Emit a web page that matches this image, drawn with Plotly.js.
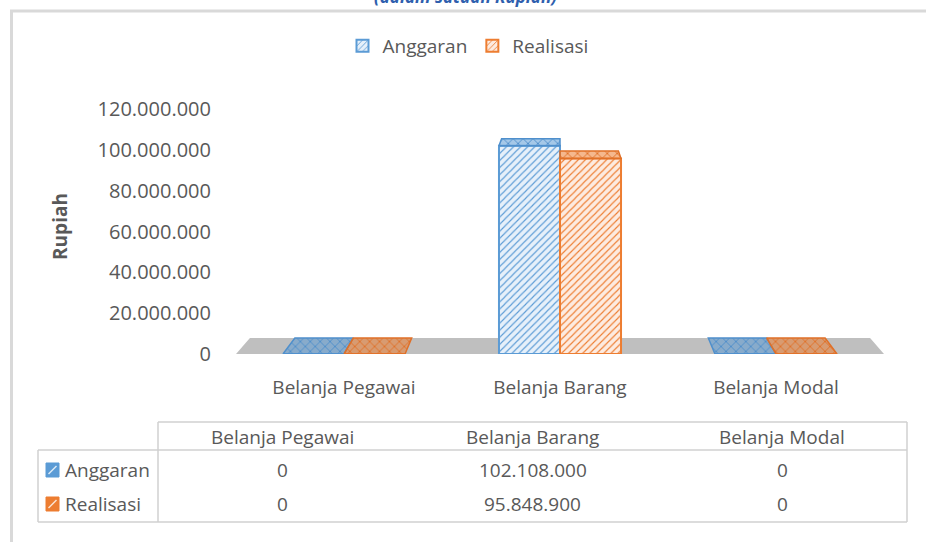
<!DOCTYPE html>
<html>
<head>
<meta charset="utf-8">
<script src="https://cdn.plot.ly/plotly-3.0.1.min.js"></script>
<style>html,body{margin:0;padding:0;background:#fff;}#chart{width:926px;height:542px;}</style>
</head>
<body>
<div id="chart"></div>
<script>
// ---- data ----
const categories = ['Belanja Pegawai', 'Belanja Barang', 'Belanja Modal'];
const seriesNames = ['Anggaran', 'Realisasi'];
const anggaran = [0, 102108000, 0];
const realisasi = [0, 95848900, 0];
const yTickVals = [0, 20000000, 40000000, 60000000, 80000000, 100000000, 120000000];
const chartTitle = '(dalam satuan Rupiah)';
const yTitle = 'Rupiah';

// ---- styles ----
const colors = ['#5b9bd5', '#ed7d31'];
const lightColors = ['#e6f0fa', '#fdebe0'];
const capFill = ['rgba(91,155,213,0.55)', 'rgba(237,125,49,0.55)'];
const capLine = ['#4f8fcc', '#e07028'];
const W = 926, H = 542;
const M = {l: 236, r: 42, t: 99, b: 188};
const PW = W - M.l - M.r, PH = H - M.t - M.b;
const px2x = p => (p - M.l) / PW;
const py2y = p => (H - M.b - p) / PH;

// perspective (depth) for the pseudo-3D look
const xIdx = categories.map((c, i) => i);
const xRange = [-0.5, 2.5];
const yRange = [0, 125000000];
const vanishX = 1, vanishY = 182000000, depthT = 0.043;
const bargap = 0.435;
const barW = (1 - bargap) / 2;
const back = (x, y) => [x + (vanishX - x) * depthT, y + (vanishY - y) * depthT];

const allSeries = [anggaran, realisasi];
const traces = [];
allSeries.forEach((vals, s) => {
  traces.push({
    type: 'bar', name: seriesNames[s], x: xIdx, y: vals,
    marker: {color: lightColors[s], line: {color: colors[s], width: 2},
      pattern: {shape: '/', fgcolor: colors[s], bgcolor: lightColors[s], size: 5, solidity: 0.22}},
    hoverinfo: 'skip'
  });
});
// top faces (and flat footprints for zero values)
allSeries.forEach((vals, s) => {
  const xs = [], ys = [];
  vals.forEach((v, i) => {
    const center = i + (s === 0 ? -barW / 2 : barW / 2);
    const xl = center - barW / 2, xr = center + barW / 2;
    const bl = back(xl, v), br = back(xr, v);
    xs.push(xl, xr, br[0], bl[0], xl, null);
    ys.push(v, v, br[1], bl[1], v, null);
  });
  traces.push({
    type: 'scatter', mode: 'lines', x: xs, y: ys, fill: 'toself',
    fillcolor: capFill[s], line: {color: capLine[s], width: 1.5},
    fillpattern: {shape: 'x', fgcolor: capLine[s], bgcolor: capFill[s], size: 7, solidity: 0.25},
    showlegend: false, hoverinfo: 'skip'
  });
});

// floor
const fl = [xRange[0], 0], fr = [xRange[1], 0];
const blb = back(fl[0], 0), brb = back(fr[0], 0);
const shapes = [
  {type: 'path', xref: 'x', yref: 'y', layer: 'below',
   path: `M${fl[0]},${fl[1]} L${fr[0]},${fr[1]} L${brb[0]},${brb[1]} L${blb[0]},${blb[1]} Z`,
   fillcolor: '#bfbfbf', line: {width: 0}},
  // chart border (left + top)
  {type: 'line', xref: 'paper', yref: 'paper', x0: px2x(11.5), x1: px2x(11.5), y0: py2y(10), y1: py2y(545), line: {color: '#d9d9d9', width: 3}},
  {type: 'line', xref: 'paper', yref: 'paper', x0: px2x(10), x1: px2x(930), y0: py2y(11), y1: py2y(11), line: {color: '#d9d9d9', width: 3}}
];

// data table
const tbl = {left: 38, sep: 158, right: 907, top: 422, rowTop: 450, bottom: 522};
const tline = (x0, y0, x1, y1) => ({type: 'line', xref: 'paper', yref: 'paper',
  x0: px2x(x0), x1: px2x(x1), y0: py2y(y0), y1: py2y(y1), line: {color: '#d0d0d0', width: 1.5}});
shapes.push(tline(tbl.sep, tbl.top, tbl.right, tbl.top));
shapes.push(tline(tbl.left, tbl.rowTop, tbl.right, tbl.rowTop));
shapes.push(tline(tbl.left, tbl.bottom, tbl.right, tbl.bottom));
shapes.push(tline(tbl.left, tbl.rowTop, tbl.left, tbl.bottom));
shapes.push(tline(tbl.sep, tbl.top, tbl.sep, tbl.bottom));
shapes.push(tline(tbl.right, tbl.top, tbl.right, tbl.bottom));

const fmt = v => String(Math.round(v)).replace(/\B(?=(\d{3})+(?!\d))/g, '.');
const colW = (tbl.right - tbl.sep) / categories.length;
const headerY = 437, rowY = [470, 504];
const annotations = [];
categories.forEach((c, i) => {
  const cx = tbl.sep + colW * (i + 0.5);
  annotations.push({xref: 'paper', yref: 'paper', x: px2x(cx), y: py2y(headerY), text: c,
    showarrow: false, xanchor: 'center', yanchor: 'middle', font: {size: 19, color: '#595959'}});
  allSeries.forEach((vals, s) => {
    annotations.push({xref: 'paper', yref: 'paper', x: px2x(cx), y: py2y(rowY[s]), text: fmt(vals[i]),
      showarrow: false, xanchor: 'center', yanchor: 'middle', font: {size: 19, color: '#595959'}});
  });
});
seriesNames.forEach((n, s) => {
  annotations.push({xref: 'paper', yref: 'paper', x: px2x(63), y: py2y(rowY[s]), text: n,
    showarrow: false, xanchor: 'left', yanchor: 'middle', font: {size: 19, color: '#595959'}});
  shapes.push({type: 'rect', xref: 'paper', yref: 'paper', x0: px2x(46), x1: px2x(59),
    y0: py2y(rowY[s] - 7), y1: py2y(rowY[s] + 7), fillcolor: colors[s], line: {color: colors[s], width: 1}});
  shapes.push({type: 'line', xref: 'paper', yref: 'paper', x0: px2x(48.5), x1: px2x(56.5),
    y0: py2y(rowY[s] + 4), y1: py2y(rowY[s] - 4), line: {color: 'rgba(255,255,255,0.8)', width: 1.5}});
});
// title (partly cut off at top, as in the source)
annotations.push({xref: 'paper', yref: 'paper', x: px2x(465), y: py2y(-4), text: '<b><i>' + chartTitle + '</i></b>',
  showarrow: false, xanchor: 'center', yanchor: 'middle', font: {size: 17, color: '#2f5fae'}});

const layout = {
  width: W, height: H, margin: M,
  paper_bgcolor: '#ffffff', plot_bgcolor: 'rgba(0,0,0,0)',
  separators: ',.',
  font: {family: '"Open Sans", sans-serif', color: '#595959', size: 19},
  barmode: 'group', bargap: bargap, bargroupgap: 0,
  showlegend: true,
  legend: {orientation: 'h', x: px2x(468), xanchor: 'center', y: py2y(46), yanchor: 'middle',
    font: {size: 19, color: '#595959'}, itemwidth: 30, traceorder: 'normal'},
  xaxis: {range: xRange, tickvals: xIdx, ticktext: categories, showgrid: false, zeroline: false,
    showline: false, ticks: '', ticklabelstandoff: 20, tickfont: {size: 19, color: '#595959'}, fixedrange: true},
  yaxis: {range: yRange, tickvals: yTickVals, tickformat: ',d', showgrid: false, zeroline: false,
    showline: false, ticks: '', ticklabelstandoff: 24, tickfont: {size: 20, color: '#595959'}, fixedrange: true,
    title: {text: '<b>' + yTitle + '</b>', font: {size: 19, color: '#595959'}, standoff: 24}},
  shapes: shapes, annotations: annotations
};

Plotly.newPlot('chart', traces, layout, {staticPlot: true, displayModeBar: false});
</script>
</body>
</html>
